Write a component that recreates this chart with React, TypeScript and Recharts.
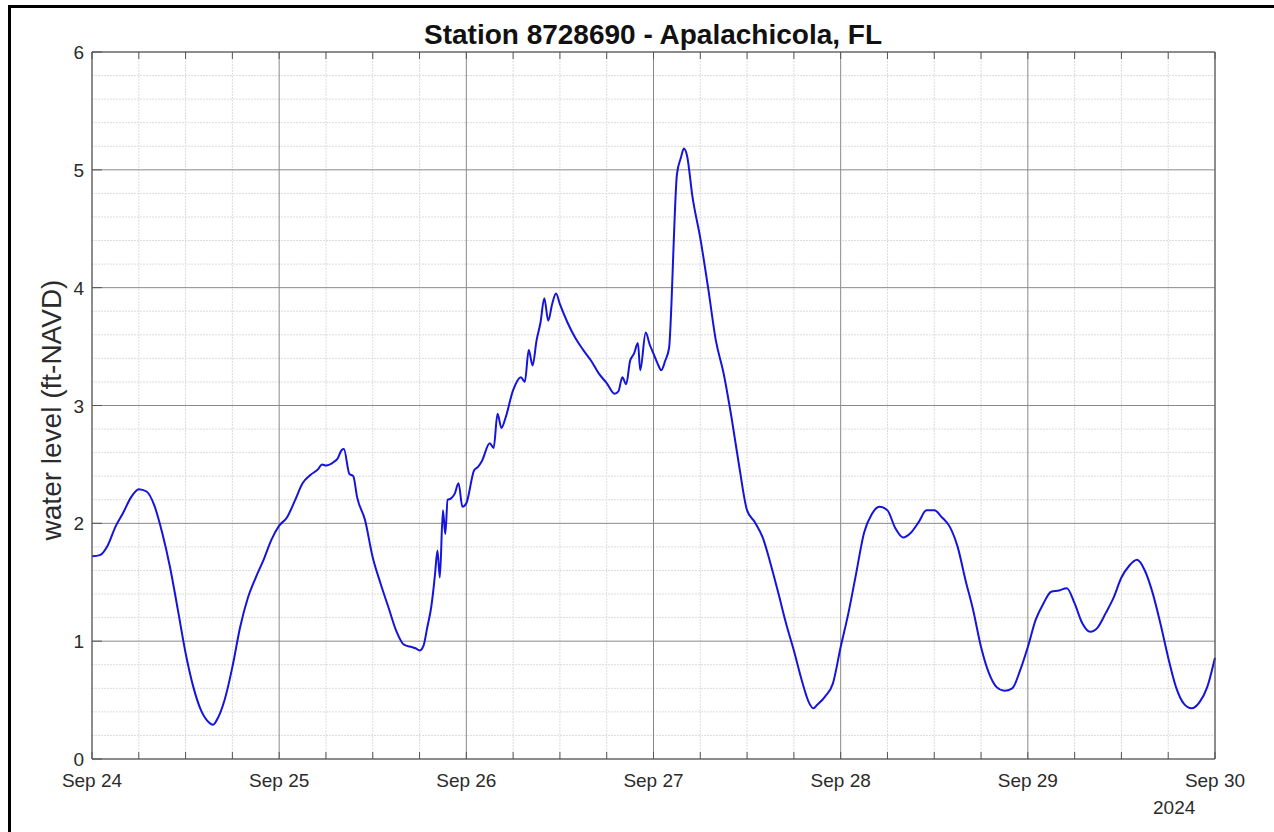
import React from 'react';
import { LineChart, Line, XAxis, YAxis, ReferenceLine } from 'recharts';

// hours since Sep 24 00:00 and water level (ft-NAVD)
const hours = [
  0, 1, 2, 3, 4, 5, 6, 7, 8, 9, 10, 11, 12, 13, 14, 15, 15.5, 16, 17, 18, 19, 20, 21, 22, 23,
  24, 25, 26, 27, 28, 29, 29.5, 30, 31, 31.5, 32, 32.3, 33, 33.5, 34, 35, 36, 37, 38, 39, 40, 41, 41.5, 42, 42.5, 43, 43.5, 43.8, 44, 44.3, 44.6, 45, 45.3, 45.6, 46, 46.5, 47, 47.5,
  48, 49, 49.5, 50, 51, 51.5, 52, 52.5, 53, 54, 55, 55.5, 56, 56.5, 57, 57.5, 58, 58.5, 59, 59.5, 60, 61, 62, 63, 64, 65, 66, 67, 67.5, 68, 68.5, 69, 69.5, 70, 70.3, 71, 71.5,
  72, 72.5, 73, 73.5, 74, 74.3, 74.6, 75, 75.5, 75.9, 76.3, 77, 78, 79, 80, 81, 82, 83, 84, 85, 86, 87, 88, 89, 90, 91, 92, 92.5, 93, 94, 95,
  96, 97, 98, 99, 100, 101, 102, 103, 104, 105, 106, 107, 108, 109, 110, 111, 112, 113, 114, 115, 116, 117, 118, 119,
  120, 121, 122, 123, 124, 125, 126, 127, 128, 129, 130, 131, 132, 133, 134, 135, 136, 137, 138, 139, 140, 141, 142, 143, 144,
];
const level = [
  1.72, 1.73, 1.81, 1.97, 2.09, 2.22, 2.29, 2.27, 2.15, 1.92, 1.63, 1.27, 0.9, 0.61, 0.41, 0.31, 0.29, 0.33, 0.5, 0.78, 1.12, 1.37, 1.54, 1.69, 1.86,
  1.98, 2.05, 2.19, 2.34, 2.41, 2.46, 2.5, 2.49, 2.52, 2.55, 2.62, 2.63, 2.42, 2.4, 2.22, 2.03, 1.71, 1.49, 1.29, 1.09, 0.97, 0.95, 0.94, 0.92, 0.96, 1.12, 1.29, 1.45, 1.58, 1.77, 1.54, 2.11, 1.91, 2.2, 2.21, 2.25, 2.34, 2.14,
  2.17, 2.45, 2.48, 2.53, 2.68, 2.64, 2.93, 2.81, 2.89, 3.13, 3.24, 3.2, 3.47, 3.34, 3.55, 3.7, 3.91, 3.72, 3.86, 3.95, 3.86, 3.7, 3.57, 3.47, 3.38, 3.27, 3.19, 3.1, 3.12, 3.24, 3.18, 3.38, 3.44, 3.53, 3.3, 3.62, 3.52,
  3.44, 3.36, 3.3, 3.38, 3.49, 3.86, 4.4, 4.96, 5.1, 5.18, 5.12, 4.77, 4.42, 4.0, 3.55, 3.27, 2.9, 2.48, 2.11, 2.01, 1.88, 1.66, 1.41, 1.15, 0.92, 0.67, 0.47, 0.43, 0.46, 0.53, 0.64,
  0.95, 1.24, 1.58, 1.92, 2.08, 2.14, 2.11, 1.96, 1.88, 1.92, 2.01, 2.11, 2.11, 2.05, 1.97, 1.8, 1.52, 1.26, 0.95, 0.73, 0.61, 0.58, 0.6, 0.75,
  0.95, 1.18, 1.32, 1.42, 1.43, 1.45, 1.32, 1.15, 1.08, 1.12, 1.24, 1.37, 1.54, 1.64, 1.69, 1.6, 1.41, 1.15, 0.86, 0.61, 0.47, 0.43, 0.48, 0.61, 0.86,
];

const dayLabels = ['Sep 24', 'Sep 25', 'Sep 26', 'Sep 27', 'Sep 28', 'Sep 29', 'Sep 30'];
const dayTicks = [0, 24, 48, 72, 96, 120, 144];
const sixHourTicks = [0, 6, 12, 18, 24, 30, 36, 42, 48, 54, 60, 66, 72, 78, 84, 90, 96, 102, 108, 114, 120, 126, 132, 138, 144];
const levelTicks = [0, 1, 2, 3, 4, 5, 6];
const minorLevels = [0.2, 0.4, 0.6, 0.8, 1.2, 1.4, 1.6, 1.8, 2.2, 2.4, 2.6, 2.8, 3.2, 3.4, 3.6, 3.8, 4.2, 4.4, 4.6, 4.8, 5.2, 5.4, 5.6, 5.8];
const minorHours = sixHourTicks.filter(h => h % 24 !== 0);

const data = hours.map((h, i) => ({ h, level: level[i] }));

const axisColor = '#555';
const textColor = '#2b2b2b';
const font = '"Liberation Sans", Arial, sans-serif';

const BottomTick = (props: any) => {
  const { x, y, payload } = props;
  const h = payload.value;
  return (
    <g>
      <line x1={x} y1={y} x2={x} y2={y - 7} stroke={axisColor} />
      {h % 24 === 0 && (
        <text x={x} y={y + 28} textAnchor="middle" fontSize={19} fill={textColor} fontFamily={font}>
          {dayLabels[h / 24]}
        </text>
      )}
    </g>
  );
};

const TopTick = (props: any) => {
  const { x, y } = props;
  return <line x1={x} y1={y} x2={x} y2={y + 7} stroke={axisColor} />;
};

const LeftTick = (props: any) => {
  const { x, y, payload } = props;
  return (
    <g>
      <line x1={x} y1={y} x2={x + 10} y2={y} stroke={axisColor} />
      <text x={x - 8} y={y + 7} textAnchor="end" fontSize={19} fill={textColor} fontFamily={font}>
        {payload.value}
      </text>
    </g>
  );
};

const RightTick = (props: any) => {
  const { x, y } = props;
  return <line x1={x} y1={y} x2={x - 10} y2={y} stroke={axisColor} />;
};

export default function App() {
  return (
    <div style={{ position: 'absolute', left: 0, top: 0, width: 1274, height: 832, background: '#fff', overflow: 'hidden' }}>
      <div style={{ position: 'absolute', left: 8, top: 5, width: 1274, height: 840, borderTop: '3px solid #000', borderLeft: '3px solid #000' }} />
      <div style={{ position: 'absolute', left: 0, right: 0, top: 19, textAlign: 'center', paddingLeft: 32, fontFamily: font, fontWeight: 'bold', fontSize: 28, color: '#111' }}>
        Station 8728690 - Apalachicola, FL
      </div>
      <div style={{ position: 'absolute', left: 52, top: 410, transform: 'translate(-50%, -50%) rotate(-90deg)', whiteSpace: 'nowrap', fontFamily: font, fontSize: 28, color: textColor }}>
        water level (ft-NAVD)
      </div>
      <div style={{ position: 'absolute', left: 1153, top: 797, fontFamily: font, fontSize: 19, color: textColor }}>2024</div>
      <div style={{ position: 'absolute', left: 0, top: 0 }}>
        <LineChart width={1274} height={832} data={data} margin={{ top: 22, right: 29, bottom: 43, left: 62 }}>
          {minorLevels.map(v => (
            <ReferenceLine key={'my' + v} y={v} stroke="#dcdcdc" strokeDasharray="2 1" />
          ))}
          {minorHours.map(v => (
            <ReferenceLine key={'mx' + v} x={v} stroke="#dcdcdc" strokeDasharray="2 1" />
          ))}
          {levelTicks.map(v => (
            <ReferenceLine key={'y' + v} y={v} stroke="#8a8a8a" />
          ))}
          {dayTicks.map(v => (
            <ReferenceLine key={'x' + v} x={v} stroke="#8a8a8a" />
          ))}
          <XAxis
            dataKey="h"
            type="number"
            domain={[0, 144]}
            ticks={sixHourTicks}
            interval={0}
            tickSize={0}
            tickMargin={0}
            tickLine={false}
            axisLine={{ stroke: axisColor }}
            height={30}
            tick={<BottomTick />}
          />
          <XAxis
            xAxisId="top"
            orientation="top"
            dataKey="h"
            type="number"
            domain={[0, 144]}
            ticks={sixHourTicks}
            interval={0}
            tickSize={0}
            tickMargin={0}
            tickLine={false}
            axisLine={{ stroke: axisColor }}
            height={30}
            tick={<TopTick />}
          />
          <YAxis
            type="number"
            domain={[0, 6]}
            ticks={levelTicks}
            interval={0}
            tickSize={0}
            tickMargin={0}
            tickLine={false}
            axisLine={{ stroke: axisColor }}
            width={30}
            tick={<LeftTick />}
          />
          <YAxis
            yAxisId="right"
            orientation="right"
            type="number"
            domain={[0, 6]}
            ticks={levelTicks}
            interval={0}
            tickSize={0}
            tickMargin={0}
            tickLine={false}
            axisLine={{ stroke: axisColor }}
            width={30}
            tick={<RightTick />}
          />
          <Line
            type="monotone"
            dataKey="level"
            stroke="#1414dc"
            strokeWidth={2}
            dot={false}
            isAnimationActive={false}
          />
        </LineChart>
      </div>
    </div>
  );
}
